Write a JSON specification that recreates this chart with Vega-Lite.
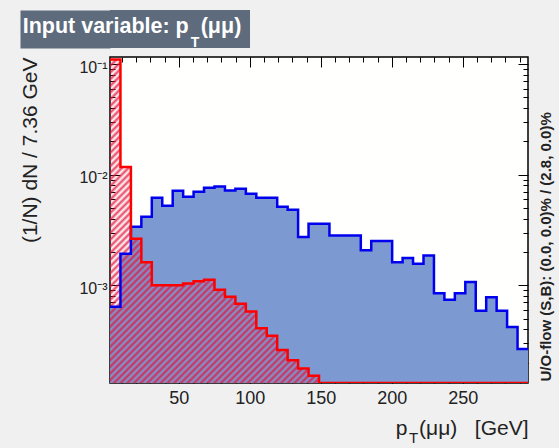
{
  "$schema": "https://vega.github.io/schema/vega-lite/v6.json",
  "background": "#f0f0f0",
  "padding": {"left": 1, "top": 10, "right": 6, "bottom": 7},
  "spacing": 5,
  "datasets": {
    "h": [
      {"x": 1.5, "s": 0.00064, "b": 0.11},
      {"x": 8.86, "s": 0.00193, "b": 0.0117},
      {"x": 16.22, "s": 0.00338, "b": 0.00263},
      {"x": 23.58, "s": 0.00417, "b": 0.00162},
      {"x": 30.94, "s": 0.00619, "b": 0.001},
      {"x": 38.3, "s": 0.00524, "b": 0.001},
      {"x": 45.66, "s": 0.00717, "b": 0.001},
      {"x": 53.02, "s": 0.00632, "b": 0.00104},
      {"x": 60.38, "s": 0.00701, "b": 0.00109},
      {"x": 67.74, "s": 0.00763, "b": 0.00112},
      {"x": 75.1, "s": 0.00783, "b": 0.00091},
      {"x": 82.46, "s": 0.00721, "b": 0.00079},
      {"x": 89.82, "s": 0.00747, "b": 0.00068},
      {"x": 97.18, "s": 0.00673, "b": 0.00058},
      {"x": 104.54, "s": 0.00619, "b": 0.00041},
      {"x": 111.9, "s": 0.00619, "b": 0.00035},
      {"x": 119.26, "s": 0.00513, "b": 0.00026},
      {"x": 126.62, "s": 0.00482, "b": 0.00021},
      {"x": 133.98, "s": 0.00273, "b": 0.000177},
      {"x": 141.34, "s": 0.00361, "b": 0.000152},
      {"x": 148.7, "s": 0.00361, "b": 0.000131},
      {"x": 156.06, "s": 0.00282, "b": 0.000131},
      {"x": 163.42, "s": 0.00282, "b": 0.000131},
      {"x": 170.78, "s": 0.00282, "b": 0.000131},
      {"x": 178.14, "s": 0.00207, "b": 0.000131},
      {"x": 185.5, "s": 0.00251, "b": 0.000131},
      {"x": 192.86, "s": 0.00251, "b": 0.000131},
      {"x": 200.22, "s": 0.00162, "b": 0.000131},
      {"x": 207.58, "s": 0.00177, "b": 0.000131},
      {"x": 214.94, "s": 0.00157, "b": 0.000131},
      {"x": 222.3, "s": 0.00186, "b": 0.000131},
      {"x": 229.66, "s": 0.00085, "b": 0.000131},
      {"x": 237.02, "s": 0.00074, "b": 0.000131},
      {"x": 244.38, "s": 0.00085, "b": 0.000131},
      {"x": 251.74, "s": 0.00107, "b": 0.000131},
      {"x": 259.1, "s": 0.00059, "b": 0.000131},
      {"x": 266.46, "s": 0.00078, "b": 0.000131},
      {"x": 273.82, "s": 0.00059, "b": 0.000131},
      {"x": 281.18, "s": 0.00042, "b": 0.000131},
      {"x": 288.54, "s": 0.000266, "b": 0.000131},
      {"x": 295.9, "s": 0.000266, "b": 0.000131}
    ]
  },
  "vconcat": [
    {
      "width": 140,
      "height": 38,
      "view": {"fill": "#5D6B7D", "stroke": null},
      "data": {"values": [{"t": "Input variable: p\u00a0\u00a0(μμ)", "u": "T"}]},
      "encoding": {
        "y": {"datum": 0.5, "type": "quantitative", "scale": {"domain": [0, 1]},
          "axis": {"orient": "left", "values": [0.5], "tickSize": 90, "tickWidth": 38, "tickColor": "#5D6B7D", "tickCap": "butt", "labels": false, "domain": false, "grid": false, "title": null}}
      },
      "layer": [
        {
          "mark": {"type": "text", "color": "#ffffff", "font": "Liberation Sans", "fontWeight": "bold", "fontSize": 21.5, "align": "center", "baseline": "alphabetic", "dx": -48, "dy": 4},
          "encoding": {"text": {"field": "t"}}
        },
        {
          "mark": {"type": "text", "color": "#ffffff", "font": "Liberation Sans", "fontWeight": "bold", "fontSize": 14, "align": "center", "baseline": "middle", "dx": 15, "dy": 14},
          "encoding": {"text": {"field": "u"}}
        }
      ]
    },
    {
      "width": 418,
      "height": 326,
      "view": {"fill": "#fffffd", "stroke": "#000000", "strokeWidth": 1.5},
      "data": {"name": "h"},
      "layer": [
        {
          "mark": {"type": "area", "interpolate": "step-after", "color": "#7d99d1", "clip": true},
          "encoding": {
            "x": {"field": "x", "type": "quantitative", "scale": {"domain": [1.5, 295.9], "nice": false, "zero": false},
              "axis": {"orient": "bottom", "values": [50, 100, 150, 200, 250], "tickSize": -10, "labelFontSize": 18, "labelPadding": 16, "labelColor": "#222222",
                "title": "p\u00a0\u00a0(μμ)\u00a0\u00a0\u00a0[GeV]", "titleFontSize": 21, "titleFontWeight": "normal", "titleColor": "#222222", "titleX": 418, "titleY": 51, "titleAlign": "right", "titleBaseline": "alphabetic", "titleAngle": 0}},
            "y": {"field": "s", "type": "quantitative", "scale": {"type": "log", "domain": [0.000131, 0.1157], "nice": false},
              "axis": {"orient": "left", "values": [0.001, 0.01, 0.1], "tickSize": -10, "labelFontSize": 16, "labelPadding": 13, "labelOffset": 3, "labelColor": "#222222", "labelBaseline": "middle",
                "labelExpr": "datum.value < 0.005 ? '10⁻³' : datum.value < 0.05 ? '10⁻²' : '10⁻¹'",
                "title": "(1/N) dN / 7.36 GeV", "titleFontSize": 21, "titleFontWeight": "normal", "titleColor": "#222222", "titleX": -70, "titleY": 0, "titleAngle": 270, "titleAlign": "right", "titleBaseline": "bottom"}},
            "y2": {"datum": 0.000131}
          }
        },
        {
          "mark": {"type": "area", "interpolate": "step-after", "clip": true,
            "fill": {"gradient": "linear", "x1": 0, "y1": 0, "x2": 1, "y2": 0.774, "stops": [
              {"offset": 0, "color": "rgba(225,20,60,0.8)"}, {"offset": 0.005, "color": "rgba(225,20,60,0)"},
              {"offset": 0.01, "color": "rgba(225,20,60,0.8)"}, {"offset": 0.015, "color": "rgba(225,20,60,0)"},
              {"offset": 0.02, "color": "rgba(225,20,60,0.8)"}, {"offset": 0.025, "color": "rgba(225,20,60,0)"},
              {"offset": 0.03, "color": "rgba(225,20,60,0.8)"}, {"offset": 0.035, "color": "rgba(225,20,60,0)"},
              {"offset": 0.04, "color": "rgba(225,20,60,0.8)"}, {"offset": 0.045, "color": "rgba(225,20,60,0)"},
              {"offset": 0.05, "color": "rgba(225,20,60,0.8)"}, {"offset": 0.055, "color": "rgba(225,20,60,0)"},
              {"offset": 0.06, "color": "rgba(225,20,60,0.8)"}, {"offset": 0.065, "color": "rgba(225,20,60,0)"},
              {"offset": 0.07, "color": "rgba(225,20,60,0.8)"}, {"offset": 0.075, "color": "rgba(225,20,60,0)"},
              {"offset": 0.08, "color": "rgba(225,20,60,0.8)"}, {"offset": 0.085, "color": "rgba(225,20,60,0)"},
              {"offset": 0.09, "color": "rgba(225,20,60,0.8)"}, {"offset": 0.095, "color": "rgba(225,20,60,0)"},
              {"offset": 0.1, "color": "rgba(225,20,60,0.8)"}, {"offset": 0.105, "color": "rgba(225,20,60,0)"},
              {"offset": 0.11, "color": "rgba(225,20,60,0.8)"}, {"offset": 0.115, "color": "rgba(225,20,60,0)"},
              {"offset": 0.12, "color": "rgba(225,20,60,0.8)"}, {"offset": 0.125, "color": "rgba(225,20,60,0)"},
              {"offset": 0.13, "color": "rgba(225,20,60,0.8)"}, {"offset": 0.135, "color": "rgba(225,20,60,0)"},
              {"offset": 0.14, "color": "rgba(225,20,60,0.8)"}, {"offset": 0.145, "color": "rgba(225,20,60,0)"},
              {"offset": 0.15, "color": "rgba(225,20,60,0.8)"}, {"offset": 0.155, "color": "rgba(225,20,60,0)"},
              {"offset": 0.16, "color": "rgba(225,20,60,0.8)"}, {"offset": 0.165, "color": "rgba(225,20,60,0)"},
              {"offset": 0.17, "color": "rgba(225,20,60,0.8)"}, {"offset": 0.175, "color": "rgba(225,20,60,0)"},
              {"offset": 0.18, "color": "rgba(225,20,60,0.8)"}, {"offset": 0.185, "color": "rgba(225,20,60,0)"},
              {"offset": 0.19, "color": "rgba(225,20,60,0.8)"}, {"offset": 0.195, "color": "rgba(225,20,60,0)"},
              {"offset": 0.2, "color": "rgba(225,20,60,0.8)"}, {"offset": 0.205, "color": "rgba(225,20,60,0)"},
              {"offset": 0.21, "color": "rgba(225,20,60,0.8)"}, {"offset": 0.215, "color": "rgba(225,20,60,0)"},
              {"offset": 0.22, "color": "rgba(225,20,60,0.8)"}, {"offset": 0.225, "color": "rgba(225,20,60,0)"},
              {"offset": 0.23, "color": "rgba(225,20,60,0.8)"}, {"offset": 0.235, "color": "rgba(225,20,60,0)"},
              {"offset": 0.24, "color": "rgba(225,20,60,0.8)"}, {"offset": 0.245, "color": "rgba(225,20,60,0)"},
              {"offset": 0.25, "color": "rgba(225,20,60,0.8)"}, {"offset": 0.255, "color": "rgba(225,20,60,0)"},
              {"offset": 0.26, "color": "rgba(225,20,60,0.8)"}, {"offset": 0.265, "color": "rgba(225,20,60,0)"},
              {"offset": 0.27, "color": "rgba(225,20,60,0.8)"}, {"offset": 0.275, "color": "rgba(225,20,60,0)"},
              {"offset": 0.28, "color": "rgba(225,20,60,0.8)"}, {"offset": 0.285, "color": "rgba(225,20,60,0)"},
              {"offset": 0.29, "color": "rgba(225,20,60,0.8)"}, {"offset": 0.295, "color": "rgba(225,20,60,0)"},
              {"offset": 0.3, "color": "rgba(225,20,60,0.8)"}, {"offset": 0.305, "color": "rgba(225,20,60,0)"},
              {"offset": 0.31, "color": "rgba(225,20,60,0.8)"}, {"offset": 0.315, "color": "rgba(225,20,60,0)"},
              {"offset": 0.32, "color": "rgba(225,20,60,0.8)"}, {"offset": 0.325, "color": "rgba(225,20,60,0)"},
              {"offset": 0.33, "color": "rgba(225,20,60,0.8)"}, {"offset": 0.335, "color": "rgba(225,20,60,0)"},
              {"offset": 0.34, "color": "rgba(225,20,60,0.8)"}, {"offset": 0.345, "color": "rgba(225,20,60,0)"},
              {"offset": 0.35, "color": "rgba(225,20,60,0.8)"}, {"offset": 0.355, "color": "rgba(225,20,60,0)"},
              {"offset": 0.36, "color": "rgba(225,20,60,0.8)"}, {"offset": 0.365, "color": "rgba(225,20,60,0)"},
              {"offset": 0.37, "color": "rgba(225,20,60,0.8)"}, {"offset": 0.375, "color": "rgba(225,20,60,0)"},
              {"offset": 0.38, "color": "rgba(225,20,60,0.8)"}, {"offset": 0.385, "color": "rgba(225,20,60,0)"},
              {"offset": 0.39, "color": "rgba(225,20,60,0.8)"}, {"offset": 0.395, "color": "rgba(225,20,60,0)"},
              {"offset": 0.4, "color": "rgba(225,20,60,0.8)"}, {"offset": 0.405, "color": "rgba(225,20,60,0)"},
              {"offset": 0.41, "color": "rgba(225,20,60,0.8)"}, {"offset": 0.415, "color": "rgba(225,20,60,0)"},
              {"offset": 0.42, "color": "rgba(225,20,60,0.8)"}, {"offset": 0.425, "color": "rgba(225,20,60,0)"},
              {"offset": 0.43, "color": "rgba(225,20,60,0.8)"}, {"offset": 0.435, "color": "rgba(225,20,60,0)"},
              {"offset": 0.44, "color": "rgba(225,20,60,0.8)"}, {"offset": 0.445, "color": "rgba(225,20,60,0)"},
              {"offset": 0.45, "color": "rgba(225,20,60,0.8)"}, {"offset": 0.455, "color": "rgba(225,20,60,0)"},
              {"offset": 0.46, "color": "rgba(225,20,60,0.8)"}, {"offset": 0.465, "color": "rgba(225,20,60,0)"},
              {"offset": 0.47, "color": "rgba(225,20,60,0.8)"}, {"offset": 0.475, "color": "rgba(225,20,60,0)"},
              {"offset": 0.48, "color": "rgba(225,20,60,0.8)"}, {"offset": 0.485, "color": "rgba(225,20,60,0)"},
              {"offset": 0.49, "color": "rgba(225,20,60,0.8)"}, {"offset": 0.495, "color": "rgba(225,20,60,0)"},
              {"offset": 0.5, "color": "rgba(225,20,60,0.8)"}, {"offset": 0.505, "color": "rgba(225,20,60,0)"},
              {"offset": 0.51, "color": "rgba(225,20,60,0.8)"}, {"offset": 0.515, "color": "rgba(225,20,60,0)"},
              {"offset": 0.52, "color": "rgba(225,20,60,0.8)"}, {"offset": 0.525, "color": "rgba(225,20,60,0)"},
              {"offset": 0.53, "color": "rgba(225,20,60,0.8)"}, {"offset": 0.535, "color": "rgba(225,20,60,0)"},
              {"offset": 0.54, "color": "rgba(225,20,60,0.8)"}, {"offset": 0.545, "color": "rgba(225,20,60,0)"},
              {"offset": 0.55, "color": "rgba(225,20,60,0.8)"}, {"offset": 0.555, "color": "rgba(225,20,60,0)"},
              {"offset": 0.56, "color": "rgba(225,20,60,0.8)"}, {"offset": 0.565, "color": "rgba(225,20,60,0)"},
              {"offset": 0.57, "color": "rgba(225,20,60,0.8)"}, {"offset": 0.575, "color": "rgba(225,20,60,0)"},
              {"offset": 0.58, "color": "rgba(225,20,60,0.8)"}, {"offset": 0.585, "color": "rgba(225,20,60,0)"},
              {"offset": 0.59, "color": "rgba(225,20,60,0.8)"}, {"offset": 0.595, "color": "rgba(225,20,60,0)"},
              {"offset": 0.6, "color": "rgba(225,20,60,0.8)"}, {"offset": 0.605, "color": "rgba(225,20,60,0)"},
              {"offset": 0.61, "color": "rgba(225,20,60,0.8)"}, {"offset": 0.615, "color": "rgba(225,20,60,0)"},
              {"offset": 0.62, "color": "rgba(225,20,60,0.8)"}, {"offset": 0.625, "color": "rgba(225,20,60,0)"},
              {"offset": 0.63, "color": "rgba(225,20,60,0.8)"}, {"offset": 0.635, "color": "rgba(225,20,60,0)"},
              {"offset": 0.64, "color": "rgba(225,20,60,0.8)"}, {"offset": 0.645, "color": "rgba(225,20,60,0)"},
              {"offset": 0.65, "color": "rgba(225,20,60,0.8)"}, {"offset": 0.655, "color": "rgba(225,20,60,0)"},
              {"offset": 0.66, "color": "rgba(225,20,60,0.8)"}, {"offset": 0.665, "color": "rgba(225,20,60,0)"},
              {"offset": 0.67, "color": "rgba(225,20,60,0.8)"}, {"offset": 0.675, "color": "rgba(225,20,60,0)"},
              {"offset": 0.68, "color": "rgba(225,20,60,0.8)"}, {"offset": 0.685, "color": "rgba(225,20,60,0)"},
              {"offset": 0.69, "color": "rgba(225,20,60,0.8)"}, {"offset": 0.695, "color": "rgba(225,20,60,0)"},
              {"offset": 0.7, "color": "rgba(225,20,60,0.8)"}, {"offset": 0.705, "color": "rgba(225,20,60,0)"},
              {"offset": 0.71, "color": "rgba(225,20,60,0.8)"}, {"offset": 0.715, "color": "rgba(225,20,60,0)"},
              {"offset": 0.72, "color": "rgba(225,20,60,0.8)"}, {"offset": 0.725, "color": "rgba(225,20,60,0)"},
              {"offset": 0.73, "color": "rgba(225,20,60,0.8)"}, {"offset": 0.735, "color": "rgba(225,20,60,0)"},
              {"offset": 0.74, "color": "rgba(225,20,60,0.8)"}, {"offset": 0.745, "color": "rgba(225,20,60,0)"},
              {"offset": 0.75, "color": "rgba(225,20,60,0.8)"}, {"offset": 0.755, "color": "rgba(225,20,60,0)"},
              {"offset": 0.76, "color": "rgba(225,20,60,0.8)"}, {"offset": 0.765, "color": "rgba(225,20,60,0)"},
              {"offset": 0.77, "color": "rgba(225,20,60,0.8)"}, {"offset": 0.775, "color": "rgba(225,20,60,0)"},
              {"offset": 0.78, "color": "rgba(225,20,60,0.8)"}, {"offset": 0.785, "color": "rgba(225,20,60,0)"},
              {"offset": 0.79, "color": "rgba(225,20,60,0.8)"}, {"offset": 0.795, "color": "rgba(225,20,60,0)"},
              {"offset": 0.8, "color": "rgba(225,20,60,0.8)"}
            ]}},
          "encoding": {
            "x": {"field": "x", "type": "quantitative",
              "axis": {"orient": "bottom", "values": [10, 20, 30, 40, 50, 60, 70, 80, 90, 100, 110, 120, 130, 140, 150, 160, 170, 180, 190, 200, 210, 220, 230, 240, 250, 260, 270, 280, 290], "tickSize": -5, "labels": false,
                "title": "T", "titleFontSize": 15, "titleFontWeight": "normal", "titleColor": "#222222", "titleX": 303, "titleY": 59, "titleAlign": "center", "titleBaseline": "alphabetic", "titleAngle": 0}},
            "y": {"field": "b", "type": "quantitative",
              "axis": {"orient": "left", "values": [0.0002, 0.0003, 0.0004, 0.0005, 0.0006, 0.0007, 0.0008, 0.0009, 0.002, 0.003, 0.004, 0.005, 0.006, 0.007, 0.008, 0.009, 0.02, 0.03, 0.04, 0.05, 0.06, 0.07, 0.08, 0.09], "tickSize": -5, "labels": false, "title": null}},
            "y2": {"datum": 0.000131}
          }
        },
        {
          "mark": {"type": "line", "interpolate": "step-after", "color": "#0000ee", "strokeWidth": 2.5, "clip": true},
          "encoding": {
            "x": {"field": "x", "type": "quantitative",
              "axis": {"orient": "top", "values": [50, 100, 150, 200, 250], "tickSize": -10, "labels": false, "title": null}},
            "y": {"field": "s", "type": "quantitative",
              "axis": {"orient": "right", "values": [0.001, 0.01, 0.1], "tickSize": -10, "labels": false,
                "title": "U/O-flow (S,B): (0.0, 0.0)% / (2.8, 0.0)%", "titleFontSize": 15, "titleFontWeight": "bold", "titleColor": "#222222", "titleX": 10, "titleY": 324, "titleAngle": 270, "titleAlign": "left", "titleBaseline": "top"}}
          }
        },
        {
          "mark": {"type": "line", "interpolate": "step-after", "color": "#ff0000", "strokeWidth": 2.5, "clip": true},
          "encoding": {
            "x": {"field": "x", "type": "quantitative",
              "axis": {"orient": "top", "values": [10, 20, 30, 40, 50, 60, 70, 80, 90, 100, 110, 120, 130, 140, 150, 160, 170, 180, 190, 200, 210, 220, 230, 240, 250, 260, 270, 280, 290], "tickSize": -5, "labels": false, "title": null}},
            "y": {"field": "b", "type": "quantitative",
              "axis": {"orient": "right", "values": [0.0002, 0.0003, 0.0004, 0.0005, 0.0006, 0.0007, 0.0008, 0.0009, 0.002, 0.003, 0.004, 0.005, 0.006, 0.007, 0.008, 0.009, 0.02, 0.03, 0.04, 0.05, 0.06, 0.07, 0.08, 0.09], "tickSize": -5, "labels": false, "title": null}}
          }
        }
      ],
      "resolve": {"axis": {"x": "independent", "y": "independent"}}
    }
  ],
  "config": {
    "view": {"stroke": null},
    "axis": {"labelFont": "Liberation Sans", "titleFont": "Liberation Sans", "tickColor": "#000000", "tickWidth": 1, "grid": false, "domain": false, "labelFlush": false},
    "text": {"font": "Liberation Sans"}
  }
}
